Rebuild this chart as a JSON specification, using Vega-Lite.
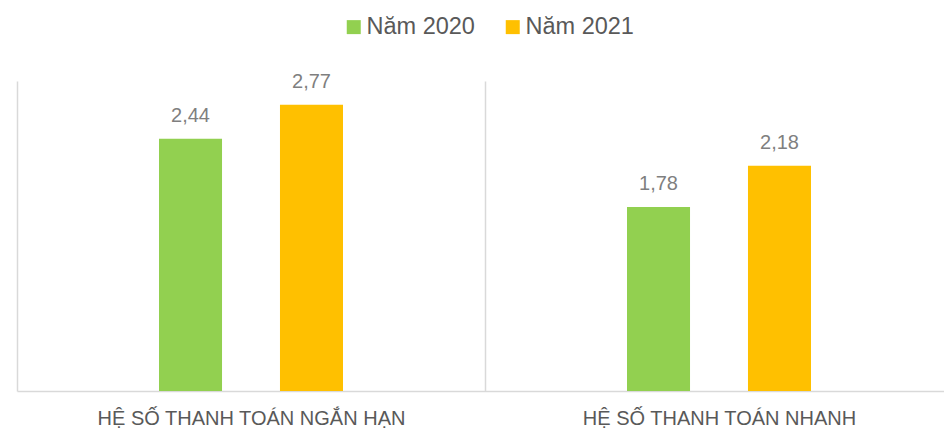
{
  "$schema": "https://vega.github.io/schema/vega-lite/v6.json",
  "width": 927,
  "height": 310,
  "autosize": {"type": "none"},
  "padding": {"left": 17, "top": 81, "right": 0, "bottom": 37},
  "background": "#ffffff",
  "config": {
    "view": {"stroke": null},
    "locale": {"number": {"decimal": ",", "thousands": ".", "grouping": [3], "currency": ["", " €"]}}
  },
  "data": {
    "values": [
      {"category": "HỆ SỐ THANH TOÁN NGẮN HẠN", "year": "Năm 2020", "value": 2.44},
      {"category": "HỆ SỐ THANH TOÁN NGẮN HẠN", "year": "Năm 2021", "value": 2.77},
      {"category": "HỆ SỐ THANH TOÁN NHANH", "year": "Năm 2020", "value": 1.78},
      {"category": "HỆ SỐ THANH TOÁN NHANH", "year": "Năm 2021", "value": 2.18}
    ]
  },
  "encoding": {
    "x": {
      "field": "category",
      "type": "nominal",
      "sort": null,
      "scale": {"range": [0, 936], "paddingInner": 0, "paddingOuter": 0},
      "axis": {
        "title": null,
        "grid": true,
        "tickBand": "extent",
        "gridColor": "#d9d9d9",
        "gridWidth": 1.5,
        "ticks": false,
        "tickSize": 0,
        "domainColor": "#d9d9d9",
        "domainWidth": 1.5,
        "labelFont": "Liberation Sans",
        "labelFontSize": 20,
        "labelColor": "#595959",
        "labelPadding": 33,
        "labelBaseline": "alphabetic",
        "labelAngle": 0,
        "labelLimit": 0
      }
    },
    "xOffset": {
      "field": "year",
      "type": "nominal",
      "sort": ["Năm 2020", "Năm 2021"],
      "scale": {"range": [142, 326], "paddingInner": 0.479, "paddingOuter": 0}
    },
    "y": {
      "field": "value",
      "type": "quantitative",
      "scale": {"domain": [0, 3], "nice": false, "zero": true},
      "axis": null
    }
  },
  "layer": [
    {
      "mark": {"type": "bar"},
      "encoding": {
        "color": {
          "field": "year",
          "type": "nominal",
          "scale": {"domain": ["Năm 2020", "Năm 2021"], "range": ["#92d050", "#ffc000"]},
          "legend": {
            "orient": "none",
            "legendX": 325,
            "legendY": -66,
            "direction": "horizontal",
            "title": null,
            "padding": 0,
            "symbolType": "square",
            "symbolSize": 196,
            "symbolStrokeWidth": 0,
            "labelFont": "Liberation Sans",
            "labelFontSize": 23.5,
            "labelColor": "#595959",
            "labelOffset": 1,
            "columnPadding": 26
          }
        }
      }
    },
    {
      "mark": {
        "type": "text",
        "dy": -17,
        "baseline": "alphabetic",
        "font": "Liberation Sans",
        "fontSize": 20,
        "color": "#7f7f7f"
      },
      "encoding": {
        "text": {"field": "value", "type": "quantitative", "format": ".2f"}
      }
    }
  ]
}
